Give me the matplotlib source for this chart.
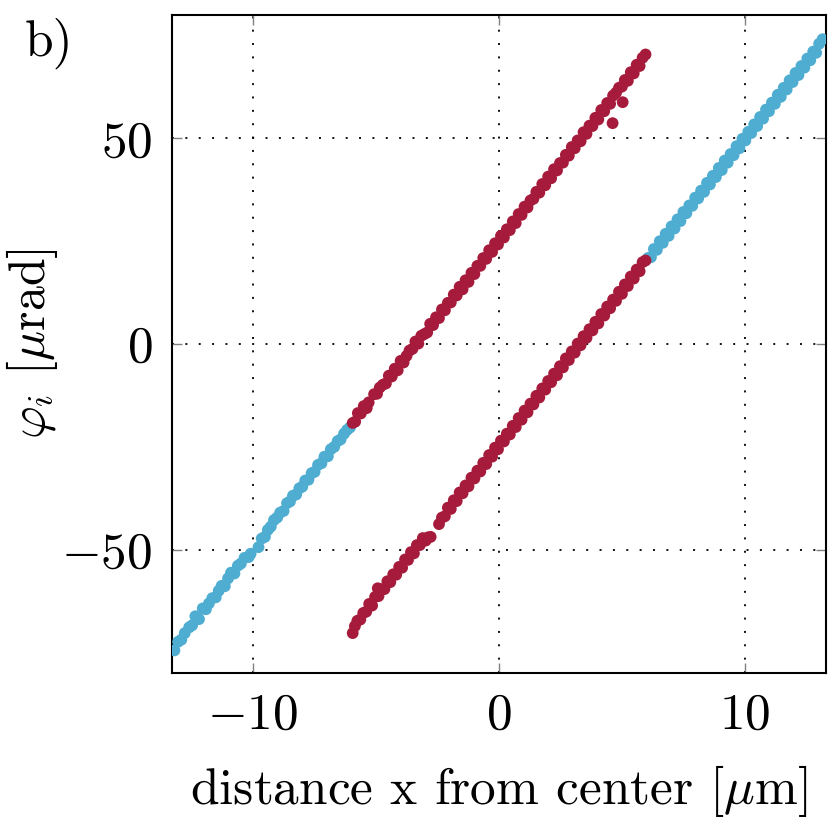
import matplotlib
matplotlib.use("Agg")
import matplotlib.pyplot as plt

plt.rcParams["font.family"] = ["cmr10", "DejaVu Serif"]
plt.rcParams["mathtext.fontset"] = "cm"
plt.rcParams["axes.formatter.use_mathtext"] = True

RED = "#a61b3b"
BLUE = "#4eadd0"

# upper line, outer part (blue)
x_a = [-13.20, -13.05, -12.92, -12.78, -12.60, -12.48, -12.35, -12.20, -12.05, -11.92,
       -11.80, -11.66, -11.52, -11.40, -11.28, -11.15, -11.02, -10.90, -10.76, -10.62,
       -10.50, -10.35, -10.18, -10.10, -9.78, -9.65, -9.52, -9.40, -9.28, -9.15,
       -9.02, -8.90, -8.76, -8.62, -8.50, -8.38, -8.25, -8.12, -8.00, -7.88,
       -7.75, -7.62, -7.50, -7.36, -7.22, -7.10, -6.96, -6.84, -6.70, -6.56,
       -6.44, -6.30, -6.18, -6.06]
y_a = [-74.5, -72.4, -71.9, -70.3, -68.9, -68.4, -66.2, -66.9, -64.3, -64.5,
       -63.1, -61.8, -61.6, -60.0, -58.8, -58.9, -57.0, -55.6, -55.8, -53.9,
       -53.4, -52.0, -51.8, -51.0, -49.4, -47.3, -46.9, -45.2, -44.4, -42.8,
       -42.2, -41.0, -40.6, -38.7, -38.3, -36.9, -36.6, -35.1, -34.7, -33.2,
       -33.0, -31.4, -31.1, -29.4, -29.0, -27.4, -27.3, -25.6, -25.0, -23.6,
       -23.2, -21.8, -20.9, -20.3]

# upper line, central part (red)
x_b = [-5.95, -5.85, -5.74, -5.62, -5.50, -5.38, -5.30, -5.08, -4.96, -4.85,
       -4.72, -4.60, -4.48, -4.36, -4.24, -4.12, -4.00, -3.88, -3.76, -3.64,
       -3.52, -3.40, -3.28, -3.16, -3.04, -2.92, -2.80, -2.68, -2.56, -2.44,
       -2.32, -2.20, -2.08, -1.96, -1.84, -1.72, -1.60, -1.48, -1.36, -1.24,
       -1.12, -1.00, -0.88, -0.76, -0.64, -0.52, -0.40, -0.28, -0.16, -0.04,
       0.08, 0.20, 0.32, 0.44, 0.56, 0.68, 0.80, 0.92, 1.04, 1.16,
       1.28, 1.40, 1.52, 1.64, 1.76, 1.88, 2.00, 2.12, 2.24, 2.36,
       2.48, 2.60, 2.72, 2.84, 2.96, 3.08, 3.20, 3.32, 3.44, 3.56,
       3.68, 3.80, 3.92, 4.04, 4.16, 4.28, 4.40, 4.52, 4.62, 4.64,
       4.76, 4.88, 5.00, 5.03, 5.12, 5.24, 5.36, 5.48, 5.60, 5.72,
       5.84, 5.96]
y_b = [-19.2, -18.9, -16.8, -16.9, -15.1, -15.6, -14.2, -12.2, -12.1, -10.6,
       -9.9, -9.6, -7.7, -7.9, -6.0, -6.4, -4.1, -4.5, -2.9, -1.6,
       -1.2, 0.6, 0.1, 2.0, 2.4, 2.8, 4.9, 4.6, 6.5, 6.3,
       8.4, 8.2, 10.0, 10.1, 12.0, 11.8, 13.9, 13.3, 15.5, 15.1,
       17.3, 17.0, 19.0, 19.0, 20.9, 20.7, 22.8, 22.4, 24.5, 24.2,
       26.3, 25.9, 27.9, 27.7, 29.8, 29.4, 31.6, 31.4, 33.4, 33.2,
       34.9, 35.3, 37.0, 36.8, 38.9, 38.6, 40.7, 40.3, 42.5, 42.2,
       44.0, 44.1, 46.0, 45.8, 47.9, 47.6, 49.5, 49.3, 51.5, 51.1,
       53.1, 53.0, 55.0, 54.6, 56.9, 56.6, 58.6, 58.4, 53.7, 60.4,
       61.1, 62.3, 62.6, 58.8, 64.2, 64.0, 66.1, 65.8, 67.9, 67.6,
       69.6, 70.4]

# lower line, central part (red)
x_c = [-5.95, -5.86, -5.76, -5.64, -5.52, -5.40, -5.28, -5.16, -5.04, -4.93,
       -4.90, -4.78, -4.66, -4.54, -4.42, -4.30, -4.18, -4.06, -3.94, -3.82,
       -3.70, -3.58, -3.46, -3.34, -3.22, -3.10, -2.98, -2.88, -2.78, -2.44,
       -2.32, -2.20, -2.08, -1.96, -1.84, -1.72, -1.60, -1.48, -1.36, -1.24,
       -1.12, -1.00, -0.88, -0.76, -0.64, -0.52, -0.40, -0.28, -0.16, -0.04,
       0.08, 0.20, 0.32, 0.44, 0.56, 0.68, 0.80, 0.92, 1.04, 1.16,
       1.28, 1.40, 1.52, 1.64, 1.76, 1.88, 2.00, 2.12, 2.24, 2.36,
       2.48, 2.60, 2.72, 2.84, 2.96, 3.08, 3.20, 3.32, 3.44, 3.56,
       3.68, 3.80, 3.92, 4.04, 4.16, 4.28, 4.40, 4.52, 4.64, 4.76,
       4.88, 5.00, 5.12, 5.24, 5.36, 5.48, 5.60, 5.72, 5.84, 5.96]
y_c = [-70.3, -68.6, -67.3, -67.0, -65.4, -65.1, -63.2, -63.6, -61.5, -59.4,
       -61.3, -59.6, -59.6, -57.7, -57.9, -56.0, -56.1, -54.2, -54.4, -52.4,
       -52.5, -50.6, -50.9, -48.9, -48.9, -47.2, -47.8, -47.0, -46.9, -43.8,
       -42.2, -41.9, -39.8, -40.1, -38.0, -38.2, -36.1, -36.3, -34.4, -34.6,
       -32.5, -32.7, -30.8, -31.0, -28.9, -29.2, -27.0, -27.4, -25.2, -25.6,
       -23.5, -23.7, -21.8, -22.0, -19.9, -20.2, -18.0, -18.4, -16.2, -16.6,
       -14.5, -14.7, -12.6, -13.0, -10.8, -11.1, -9.0, -9.3, -7.2, -7.6,
       -5.4, -5.7, -3.5, -3.9, -1.8, -2.1, 0.1, -0.3, 1.9, 1.5,
       3.6, 3.3, 5.4, 5.0, 7.3, 6.9, 9.1, 8.7, 10.8, 10.5,
       12.7, 12.2, 14.5, 14.1, 16.4, 15.9, 18.1, 17.7, 19.9, 20.3]

# lower line, outer part (blue)
x_d = [6.06, 6.18, 6.30, 6.42, 6.54, 6.66, 6.78, 6.90, 7.02, 7.14,
       7.26, 7.38, 7.50, 7.62, 7.74, 7.86, 7.98, 8.10, 8.22, 8.34,
       8.46, 8.58, 8.70, 8.82, 8.94, 9.06, 9.18, 9.30, 9.42, 9.54,
       9.66, 9.78, 9.90, 10.02, 10.14, 10.26, 10.38, 10.50, 10.62, 10.74,
       10.86, 10.98, 11.10, 11.22, 11.34, 11.46, 11.58, 11.70, 11.82, 11.94,
       12.06, 12.18, 12.30, 12.42, 12.54, 12.66, 12.78, 12.90, 13.02, 13.16]
y_d = [20.9, 21.1, 23.1, 22.9, 25.0, 24.6, 26.8, 26.3, 28.6, 28.1,
       30.3, 29.9, 32.1, 31.8, 33.7, 33.6, 35.6, 35.4, 37.3, 37.0,
       39.2, 38.8, 40.9, 40.6, 42.8, 42.3, 44.6, 44.1, 46.2, 45.9,
       48.1, 47.6, 49.9, 49.5, 51.6, 51.3, 53.4, 53.0, 55.2, 54.8,
       57.0, 56.6, 58.7, 58.4, 60.6, 60.1, 62.3, 61.9, 64.1, 63.7,
       65.9, 65.4, 67.6, 67.2, 69.4, 69.0, 71.1, 70.8, 73.0, 74.1]

fig = plt.figure(figsize=(8.32, 8.38), dpi=100)
ax = fig.add_axes([0.2067, 0.1969, 0.7861, 0.7852])

for xs, ys, c in [(x_a, y_a, BLUE), (x_d, y_d, BLUE), (x_b, y_b, RED), (x_c, y_c, RED)]:
    ax.scatter(xs, ys, s=72, color=c, edgecolors="none", zorder=3)

ax.set_xlim(-13.3, 13.3)
ax.set_ylim(-80, 80)
ax.set_xticks([-10, 0, 10])
ax.set_yticks([-50, 0, 50])
ax.grid(True, color="black", linestyle=(0, (1.1, 6.3)), linewidth=1.3)
ax.tick_params(direction="in", length=7, width=1, color="gray",
               top=True, right=True, labelsize=37, pad=14)
for sp in ax.spines.values():
    sp.set_linewidth(1.5)

ax.set_xlabel(r"distance x from center [$\mu$m]", fontsize=37, labelpad=18)
ax.set_ylabel(r"$\varphi_i$ [$\mu$rad]", fontsize=36, labelpad=1)
fig.text(0.03, 0.948, "b)", fontsize=37, va="center", ha="left")

fig.savefig("out.png", dpi=100)
